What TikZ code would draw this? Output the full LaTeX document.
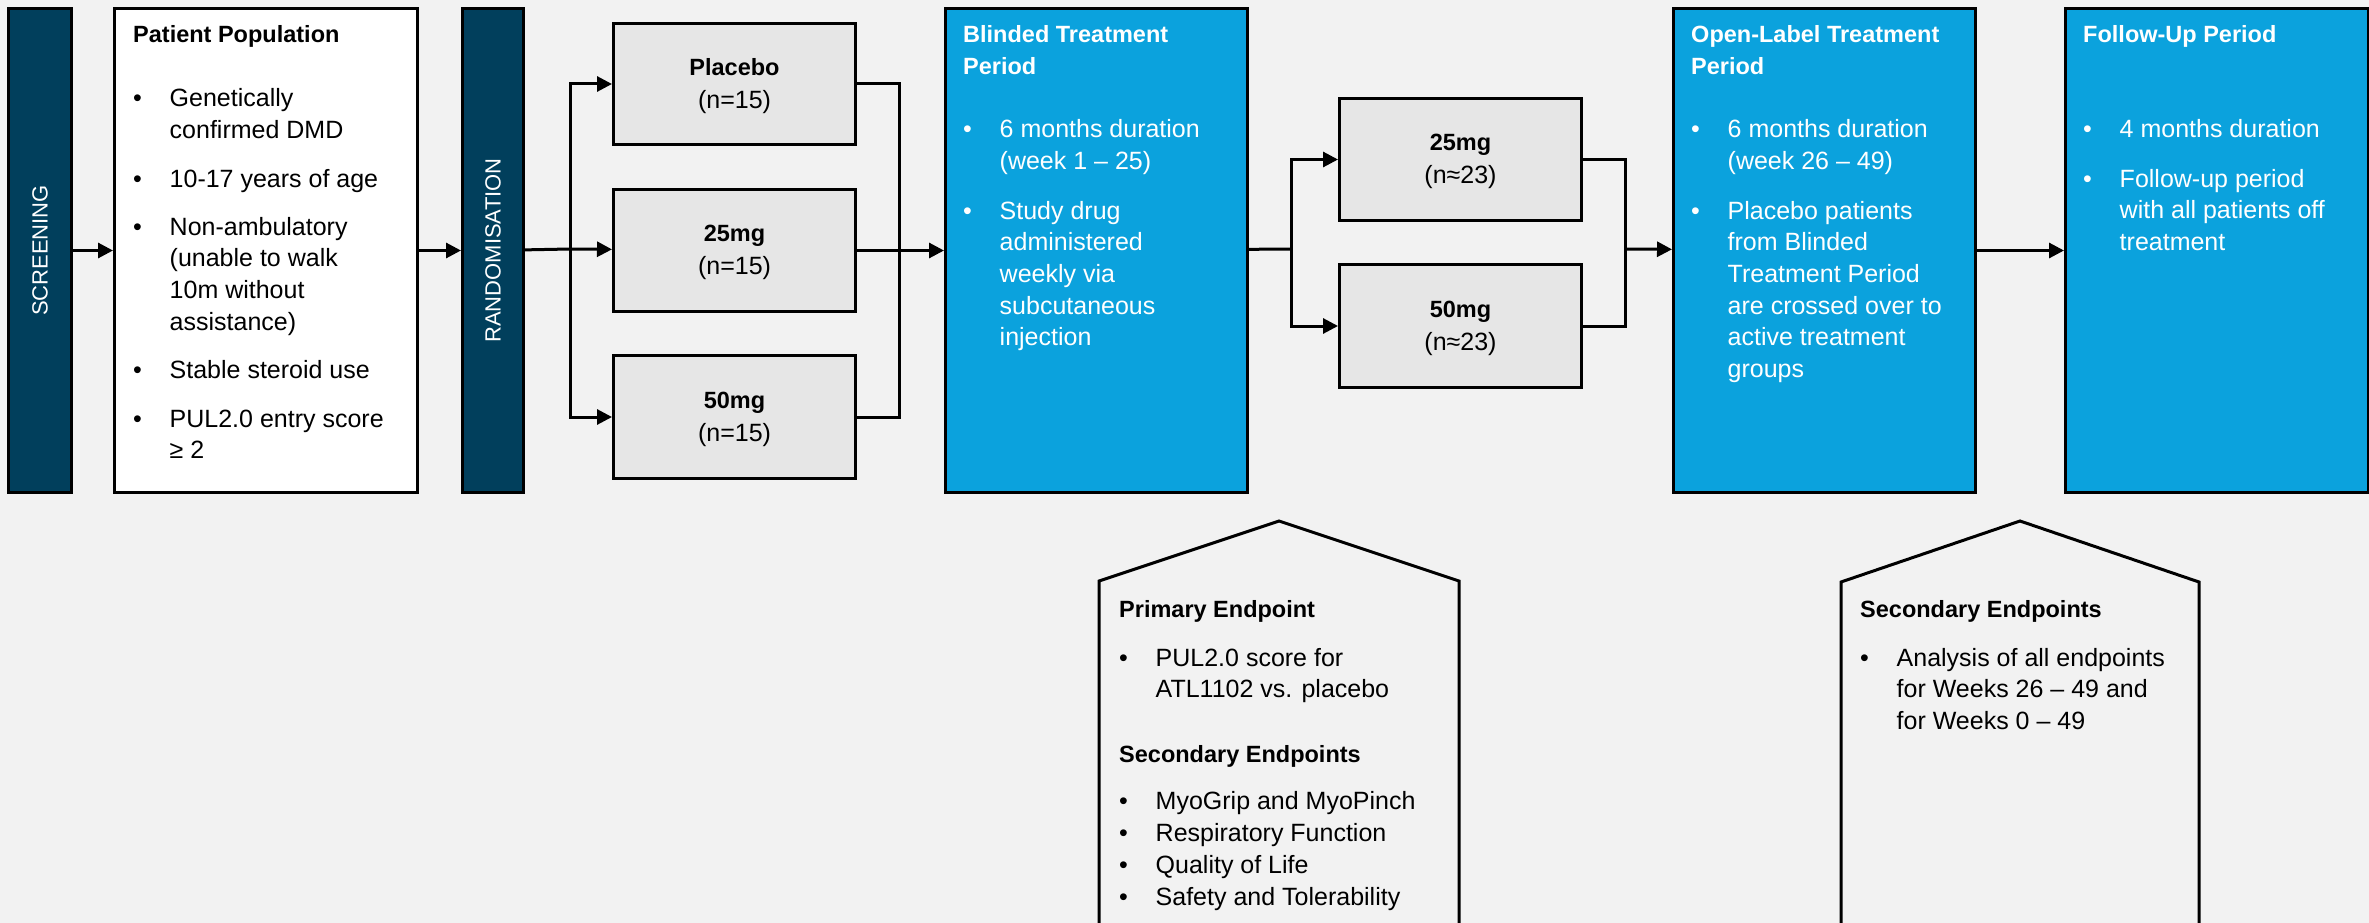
\documentclass[tikz,border=0pt]{standalone}
\usepackage{fontspec}
\setmainfont{Liberation Sans}
\usetikzlibrary{arrows.meta,calc}
\definecolor{bgc}{HTML}{F2F2F2}
\definecolor{navyc}{HTML}{013F5C}
\definecolor{bluec}{HTML}{0BA2DD}
\definecolor{grayc}{HTML}{E6E6E6}
\newcommand{\rbox}[6]{\node[#2,anchor=north west,inner sep=0pt,minimum width={#5-#3},minimum height={#6-#4}] (#1) at (#3,#4) {};}
% optional style, name, x, first baseline y, number of lines, text
\newcommand{\bitem}[6][]{\node[txt,#1] (#2b) at (#3,#4) {•};\node[txt,#1] (#2) at ({#3+36.5},{#4+(#5-1)*31.7}) {#6};}
\begin{document}
\begin{tikzpicture}[x=1pt,y=-1pt,
 bline/.style={draw=black,line width=3pt},
 darkbar/.style={bline,fill=navyc},
 whitebox/.style={bline,fill=white},
 bluebox/.style={bline,fill=bluec},
 armbox/.style={bline,fill=grayc},
 conn/.style={draw=black,line width=3pt},
 arr/.style={conn,-{Triangle[length=15pt,width=15pt]}},
 txt/.style={anchor=base west,inner sep=0pt,align=left,font=\fontsize{25}{31.7}\selectfont},
 hd/.style={anchor=base west,inner sep=0pt,align=left,font=\fontsize{23.5}{31.7}\selectfont\bfseries},
 whd/.style={hd,text=white},
 bartxt/.style={rotate=90,text=white,inner sep=0pt,font=\fontsize{22}{26}\selectfont},
 armtxt/.style={align=center,inner sep=0pt,font=\fontsize{25}{33}\selectfont},
]
\fill[bgc] (0,0) rectangle (2369,923);
\useasboundingbox (0,0) rectangle (2369,923);

\rbox{scr}{darkbar}{7}{7}{70}{491}
\rbox{pat}{whitebox}{113}{7}{416}{491}
\rbox{rnd}{darkbar}{461}{7}{522}{491}
\rbox{plc}{armbox}{612}{22}{854}{143}
\rbox{aa}{armbox}{612}{188}{854}{310}
\rbox{ab}{armbox}{612}{354}{854}{477}
\rbox{blind}{bluebox}{944}{7}{1246}{491}
\rbox{ca}{armbox}{1338}{97}{1580}{219}
\rbox{cb}{armbox}{1338}{263}{1580}{386}
\rbox{open}{bluebox}{1672}{7}{1974}{491}
\rbox{fol}{bluebox}{2064}{7}{2367}{491}

\node[bartxt] (scrt) at (scr.center) {SCREENING};
\node[bartxt] (rndt) at (rnd.center) {RANDOMISATION};

\node[armtxt] (plct) at ([yshift=-2pt]plc.center) {{\fontsize{23.5}{33}\selectfont\bfseries Placebo}\\(n=15)};
\node[armtxt] (aat) at ([yshift=-2pt]aa.center) {{\fontsize{23.5}{33}\selectfont\bfseries 25mg}\\(n=15)};
\node[armtxt] (abt) at ([yshift=-2pt]ab.center) {{\fontsize{23.5}{33}\selectfont\bfseries 50mg}\\(n=15)};
\node[armtxt] (cat) at ([yshift=-2pt]ca.center) {{\fontsize{23.5}{33}\selectfont\bfseries 25mg}\\(n≈23)};
\node[armtxt] (cbt) at ([yshift=-2pt]cb.center) {{\fontsize{23.5}{33}\selectfont\bfseries 50mg}\\(n≈23)};

\coordinate (s1) at (570,249);
\coordinate (j1) at (899,249);
\coordinate (s2) at (1291,249);
\coordinate (j2) at (1625,249);
\draw[arr] (scr) -- (pat);
\draw[arr] (pat) -- (rnd);
\draw[conn] (rnd) -- (s1);
\draw[arr] (s1) |- (plc);
\draw[arr] (s1) -- (aa);
\draw[arr] (s1) |- (ab);
\draw[conn] (plc) -| (j1);
\draw[conn] (ab) -| (j1);
\draw[arr] (aa) -- (blind);
\draw[conn] (blind) -- (s2);
\draw[arr] (s2) |- (ca);
\draw[arr] (s2) |- (cb);
\draw[conn] (ca) -| (j2);
\draw[conn] (cb) -| (j2);
\draw[arr] (j2) -- (open);
\draw[arr] (open) -- (fol);

\draw[bline,fill=bgc] (1099,581) -- (1279,521) -- (1459,581) -- (1459,960) -- (1099,960) -- cycle;
\draw[bline,fill=bgc] (1841,582) -- (2020,521) -- (2199,582) -- (2199,960) -- (1841,960) -- cycle;

\node[hd] (pph) at (133,43) {Patient Population};
\bitem{p1}{133}{107}{2}{Genetically\\confirmed DMD}
\bitem{p2}{133}{187}{1}{10-17 years of age}
\bitem{p3}{133}{235}{4}{Non-ambulatory\\(unable to walk\\10m without\\assistance)}
\bitem{p4}{133}{378}{1}{Stable steroid use}
\bitem{p5}{133}{427}{2}{PUL2.0 entry score\\≥ 2}

\node[whd] (bh) at (963,74.7) {Blinded Treatment\\Period};
\bitem[text=white]{b1}{963}{138}{2}{6 months duration\\(week 1 – 25)}
\bitem[text=white]{b2}{963}{219}{5}{Study drug\\administered\\weekly via\\subcutaneous\\injection}

\node[whd] (oh) at (1691,74.7) {Open-Label Treatment\\Period};
\bitem[text=white]{o1}{1691}{138}{2}{6 months duration\\(week 26 – 49)}
\bitem[text=white]{o2}{1691}{219}{6}{Placebo patients\\from Blinded\\Treatment Period\\are crossed over to\\active treatment\\groups}

\node[whd] (fh) at (2083,43) {Follow-Up Period};
\bitem[text=white]{f1}{2083}{138}{1}{4 months duration}
\bitem[text=white]{f2}{2083}{187}{3}{Follow-up period\\with all patients off\\treatment}

\node[hd] (e1h) at (1119,617) {Primary Endpoint};
\bitem{e11}{1119}{666}{2}{PUL2.0 score for\\ATL1102 vs. placebo}
\node[hd] (e2h) at (1119,762) {Secondary Endpoints};
\bitem{e21}{1119}{809}{1}{MyoGrip and MyoPinch}
\bitem{e22}{1119}{841}{1}{Respiratory Function}
\bitem{e23}{1119}{873}{1}{Quality of Life}
\bitem{e24}{1119}{905}{1}{Safety and Tolerability}

\node[hd] (s2h) at (1860,617) {Secondary Endpoints};
\bitem{s21}{1860}{666}{3}{Analysis of all endpoints\\for Weeks 26 – 49 and\\for Weeks 0 – 49}
\end{tikzpicture}
\end{document}
